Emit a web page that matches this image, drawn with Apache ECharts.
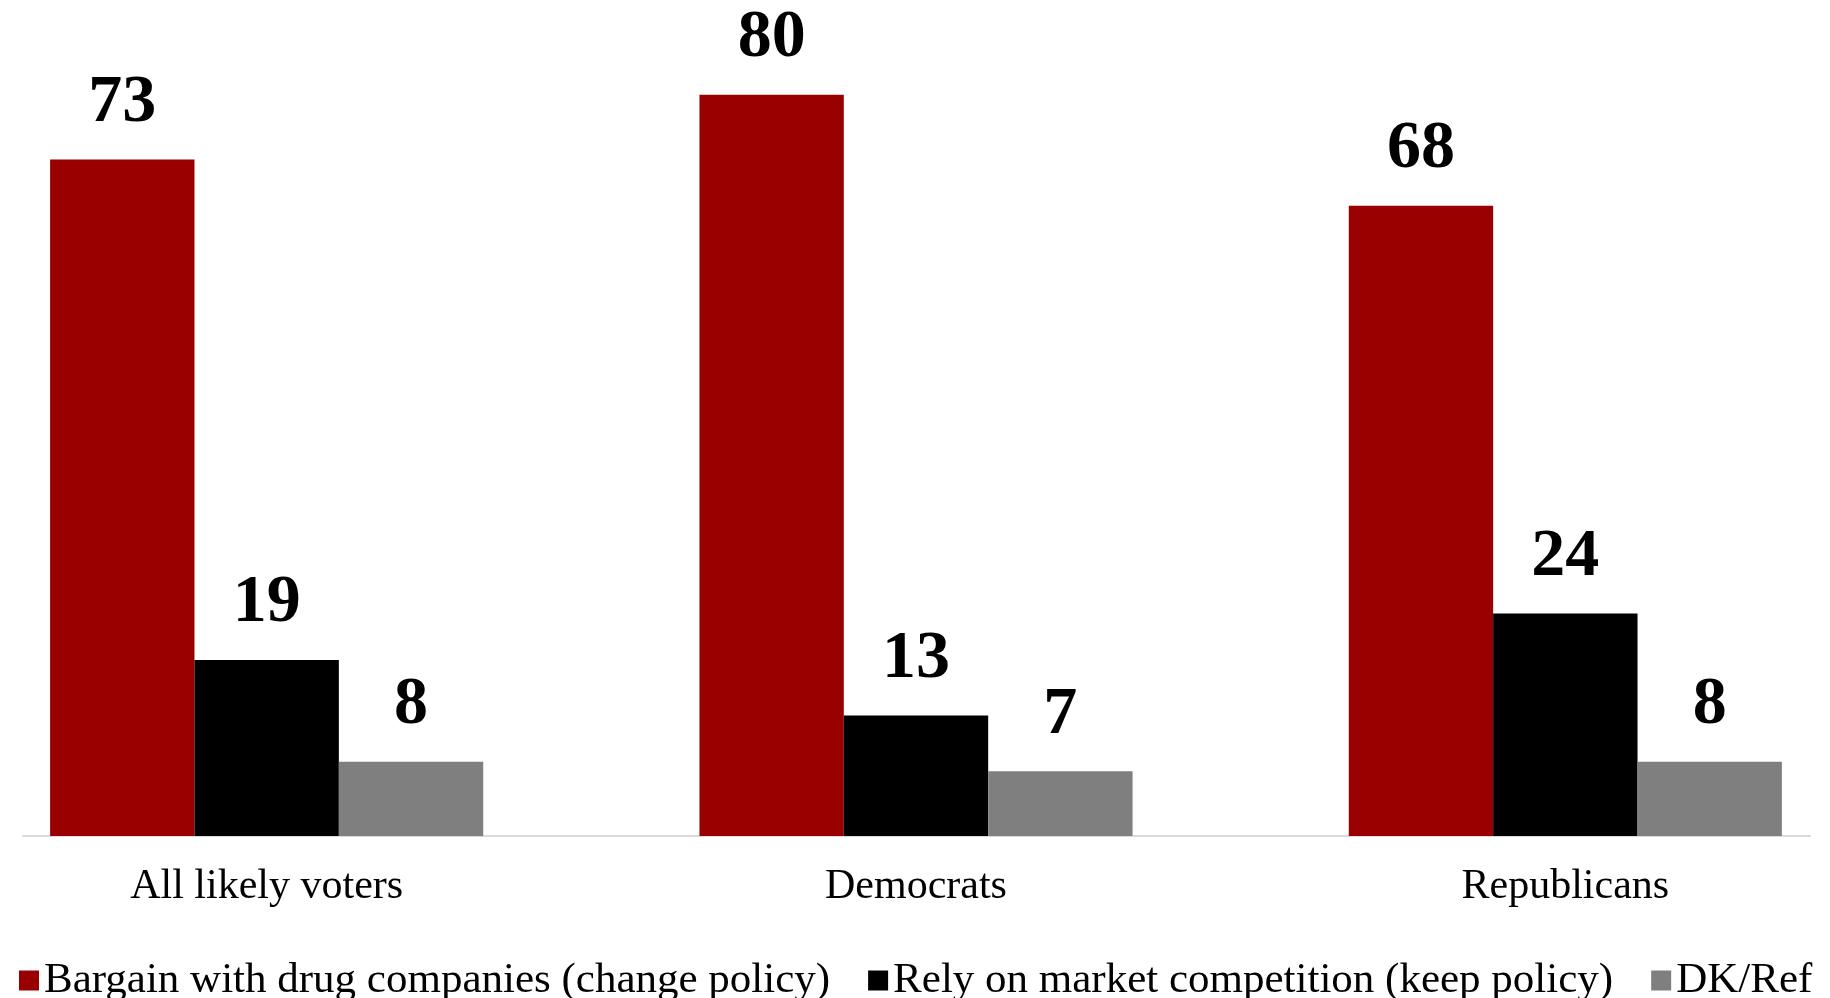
<!DOCTYPE html>
<html>
<head>
<meta charset="utf-8">
<script src="https://cdn.jsdelivr.net/npm/echarts@6/dist/echarts.min.js"></script>
<style>
  html, body { margin: 0; padding: 0; background: #fff; }
  #chart { width: 1830px; height: 998px; }
</style>
</head>
<body>
<div id="chart"></div>
<script>
// groups along the x axis
const categories = ['All likely voters', 'Democrats', 'Republicans']
// series names (legend)
const seriesNames = [
  'Bargain with drug companies (change policy)',
  'Rely on market competition (keep policy)',
  'DK/Ref',
]
// values in percent
const bargainValues = [73, 80, 68]
const relyValues = [19, 13, 24]
const dkValues = [8, 7, 8]

const colors = ['#990000', '#000000', '#7f7f7f']
const serif = '"Liberation Serif", "Times New Roman", serif'

const myChart = echarts.init(document.getElementById('chart'))

function makeSeries(name, data, color) {
  return {
    name: name,
    type: 'bar',
    xAxisIndex: 0,
    yAxisIndex: 0,
    data: data,
    barGap: 0,
    barCategoryGap: '33.3%',
    itemStyle: { color: color },
    label: {
      show: true,
      position: 'top',
      distance: 22,
      color: '#000',
      fontFamily: serif,
      fontWeight: 'bold',
      fontSize: 68,
    },
    emphasis: { disabled: true },
  }
}

const option = {
  animation: false,
  backgroundColor: '#fff',
  legend: {
    top: 954,
    left: 14,
    itemWidth: 20,
    itemHeight: 20,
    itemGap: 38,
    icon: 'rect',
    textStyle: {
      fontFamily: serif,
      fontSize: 43,
      color: '#000',
    },
    data: seriesNames,
  },
  grid: [
    // main plot, wider than the page (the original is cropped at both sides)
    { left: -58, right: -60, top: 2, bottom: 162, outerBoundsMode: 'none' },
    // only used for the visible baseline
    { left: 23, right: 20, top: 2, bottom: 162, outerBoundsMode: 'none' },
  ],
  xAxis: [
    {
      type: 'category',
      gridIndex: 0,
      data: categories,
      axisLine: { show: false },
      axisTick: { show: false },
      axisLabel: {
        margin: 30,
        color: '#000',
        fontFamily: serif,
        fontSize: 42,
      },
    },
    {
      type: 'value',
      gridIndex: 1,
      min: 0,
      max: 1,
      axisLine: { show: true, lineStyle: { color: '#d9d9d9', width: 2 } },
      axisTick: { show: false },
      axisLabel: { show: false },
      splitLine: { show: false },
    },
  ],
  yAxis: [
    {
      type: 'value',
      gridIndex: 0,
      min: 0,
      max: 90,
      show: false,
      splitLine: { show: false },
    },
    {
      type: 'value',
      gridIndex: 1,
      min: 0,
      max: 1,
      show: false,
    },
  ],
  series: [
    makeSeries(seriesNames[0], bargainValues, colors[0]),
    makeSeries(seriesNames[1], relyValues, colors[1]),
    makeSeries(seriesNames[2], dkValues, colors[2]),
  ],
}

myChart.setOption(option)
</script>
</body>
</html>
